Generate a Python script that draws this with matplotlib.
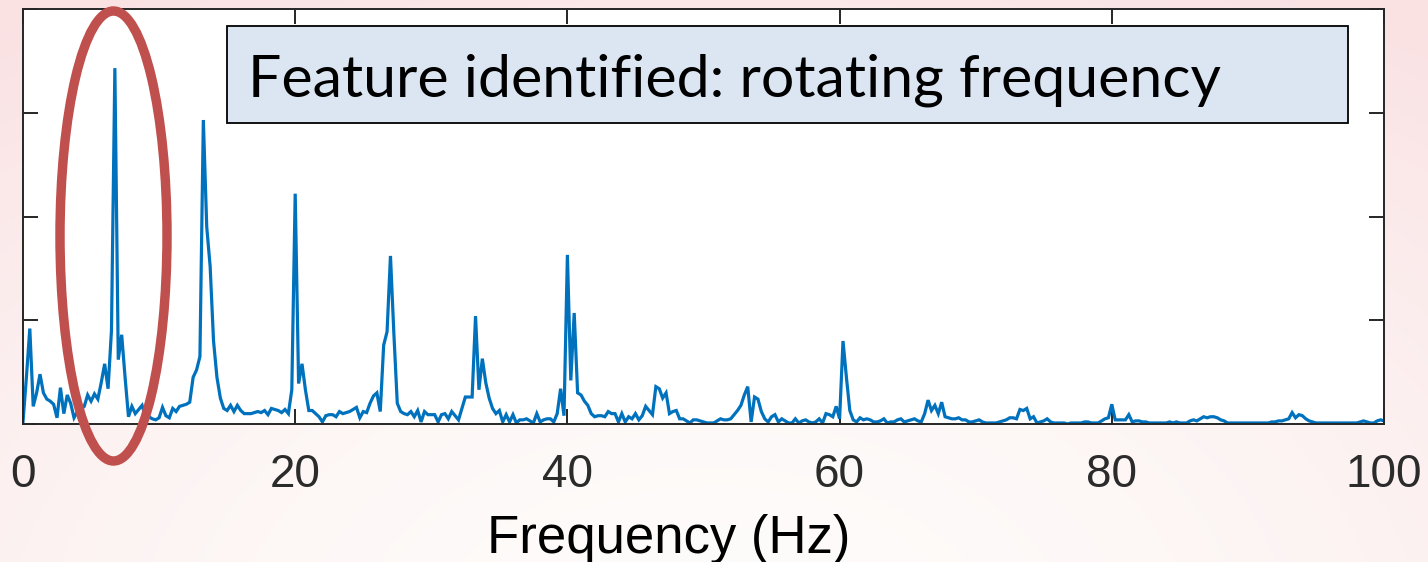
import numpy as np
import matplotlib
matplotlib.use("Agg")
import matplotlib.pyplot as plt
from matplotlib.patches import Ellipse, Rectangle

# ---- data (amplitude spectrum, 0.25 Hz bins) ----
freq_step = 0.25
amp_0_20 = [0.02, 0.45, 0.92, 0.17, 0.30, 0.48, 0.30, 0.24, 0.22, 0.19, 0.06, 0.35,
            0.10, 0.28, 0.20, 0.06, 0.12, 0.14, 0.17, 0.28, 0.22, 0.29, 0.24, 0.40,
            0.58, 0.34, 0.90, 3.43, 0.62, 0.86, 0.45, 0.07, 0.17, 0.10, 0.14, 0.18,
            0.07, 0.07, 0.05, 0.04, 0.06, 0.16, 0.08, 0.06, 0.15, 0.12, 0.17, 0.18,
            0.19, 0.21, 0.45, 0.52, 0.65, 2.93, 1.90, 1.52, 0.80, 0.45, 0.25, 0.15,
            0.13, 0.18, 0.12, 0.18, 0.13, 0.10, 0.10, 0.10, 0.11, 0.12, 0.11, 0.13,
            0.09, 0.15, 0.14, 0.13, 0.11, 0.14, 0.10, 0.33]
amp_20_40 = [2.22, 0.39, 0.58, 0.33, 0.13, 0.13, 0.10, 0.07, 0.02, 0.08, 0.09, 0.09,
             0.07, 0.12, 0.10, 0.11, 0.12, 0.14, 0.16, 0.06, 0.12, 0.11, 0.20, 0.27,
             0.30, 0.12, 0.76, 0.89, 1.62, 0.87, 0.20, 0.12, 0.10, 0.09, 0.12, 0.07,
             0.13, 0.02, 0.12, 0.09, 0.09, 0.09, 0.02, 0.09, 0.10, 0.05, 0.12, 0.08,
             0.04, 0.15, 0.26, 0.26, 0.26, 1.04, 0.33, 0.63, 0.40, 0.25, 0.15, 0.10,
             0.13, 0.02, 0.09, 0.02, 0.09, 0.01, 0.04, 0.04, 0.05, 0.03, 0.01, 0.10,
             0.02, 0.04, 0.05, 0.05, 0.02, 0.10, 0.34, 0.08]
amp_40_60 = [1.63, 0.42, 1.07, 0.30, 0.28, 0.22, 0.18, 0.10, 0.07, 0.08, 0.08, 0.07,
             0.12, 0.10, 0.10, 0.02, 0.10, 0.02, 0.07, 0.05, 0.10, 0.04, 0.08, 0.17,
             0.13, 0.09, 0.36, 0.34, 0.25, 0.30, 0.10, 0.12, 0.13, 0.05, 0.05, 0.03,
             0.01, 0.04, 0.04, 0.03, 0.02, 0.01, 0.01, 0.01, 0.03, 0.05, 0.04, 0.04,
             0.05, 0.09, 0.13, 0.18, 0.28, 0.36, 0.02, 0.26, 0.24, 0.12, 0.05, 0.02,
             0.07, 0.09, 0.02, 0.05, 0.03, 0.01, 0.01, 0.05, 0.01, 0.03, 0.04, 0.02,
             0.01, 0.02, 0.05, 0.01, 0.10, 0.09, 0.07, 0.17]
amp_60_80 = [0.05, 0.80, 0.45, 0.13, 0.04, 0.02, 0.06, 0.04, 0.05, 0.04, 0.02, 0.02,
             0.03, 0.05, 0.01, 0.02, 0.02, 0.04, 0.05, 0.02, 0.03, 0.04, 0.05, 0.03,
             0.02, 0.10, 0.23, 0.13, 0.18, 0.10, 0.21, 0.07, 0.06, 0.05, 0.05, 0.06,
             0.04, 0.04, 0.02, 0.02, 0.03, 0.04, 0.02, 0.01, 0.01, 0.01, 0.01, 0.02,
             0.03, 0.04, 0.06, 0.06, 0.05, 0.14, 0.13, 0.15, 0.05, 0.07, 0.01, 0.02,
             0.03, 0.05, 0.02, 0.01, 0.01, 0.01, 0.01, 0.00, 0.01, 0.01, 0.01, 0.01,
             0.02, 0.02, 0.01, 0.01, 0.01, 0.03, 0.05, 0.06]
amp_80_100 = [0.19, 0.04, 0.04, 0.04, 0.04, 0.09, 0.02, 0.03, 0.03, 0.02, 0.02, 0.01,
              0.01, 0.01, 0.01, 0.01, 0.01, 0.02, 0.01, 0.02, 0.01, 0.01, 0.01, 0.03,
              0.04, 0.03, 0.05, 0.07, 0.06, 0.07, 0.07, 0.06, 0.04, 0.03, 0.01, 0.01,
              0.01, 0.01, 0.01, 0.01, 0.01, 0.01, 0.01, 0.01, 0.01, 0.01, 0.01, 0.02,
              0.02, 0.03, 0.03, 0.04, 0.05, 0.11, 0.06, 0.09, 0.08, 0.05, 0.03, 0.02,
              0.01, 0.01, 0.01, 0.01, 0.01, 0.01, 0.01, 0.01, 0.01, 0.01, 0.01, 0.01,
              0.01, 0.02, 0.03, 0.02, 0.01, 0.01, 0.03, 0.04, 0.03]
xticks = [0, 20, 40, 60, 80, 100]
yticks = [0, 1, 2, 3, 4]
xlabel = "Frequency (Hz)"
note = "Feature identified: rotating frequency"

amplitude = np.array(amp_0_20 + amp_20_40 + amp_40_60 + amp_60_80 + amp_80_100)
frequency = np.arange(len(amplitude)) * freq_step

W, H = 1428, 562
fig = plt.figure(figsize=(W / 100, H / 100), dpi=100)

# slide background gradient (pink at top edges, lighter towards bottom centre)
bg = fig.add_axes([0, 0, 1, 1], zorder=-10)
yy, xx = np.mgrid[0:1:200j, 0:1:400j]
d = np.clip(np.sqrt(((xx - 0.5) / 0.85) ** 2 + ((yy - 1.15) / 1.35) ** 2), 0, 1)
c0 = np.array([0.995, 0.988, 0.982])
c1 = np.array([0.982, 0.885, 0.890])
t = d[..., None] ** 1.8
img = c0 * (1 - t) + c1 * t
bg.imshow(img, extent=[0, 1, 0, 1], aspect="auto", origin="upper")
bg.axis("off")

ax = fig.add_axes([23 / W, 1 - 424 / H, (1384 - 23) / W, (424 - 9) / H])
ax.set_facecolor("white")
ax.plot(frequency, amplitude, color="#0072BD", lw=2.3, solid_joinstyle="miter")
ax.set_xlim(0, 100)
ax.set_ylim(0, 4)
ax.set_xticks(xticks)
ax.set_yticks(yticks)
ax.set_yticklabels([])
ax.tick_params(axis="both", direction="in", length=11, width=1.4, color="#262626",
               top=True, right=True, labelsize=33, labelcolor="#2b2b2b", pad=21)
for lab in ax.get_xticklabels():
    lab.set_fontfamily("Liberation Sans")
for s in ax.spines.values():
    s.set_color("#262626")
    s.set_linewidth(1.4)

fig.text(669 / W, 1 - 553 / H, xlabel, ha="center", va="baseline",
         fontsize=38, family="Liberation Sans", color="black")

# annotation box
fig.patches.append(Rectangle((227 / W, 1 - 123 / H), (1348 - 227) / W, (123 - 26) / H,
                             transform=fig.transFigure, facecolor="#DCE6F2",
                             edgecolor="black", lw=1.3, zorder=5))
fig.text(248 / W, 1 - 97 / H, note, ha="left", va="baseline", fontsize=42.5,
         family="Lato", color="black", zorder=6)

# red ellipse highlighting the rotating frequency
fig.patches.append(Ellipse((113.5 / W, 1 - 236 / H), 107 / W, 450 / H,
                           transform=fig.transFigure, fill=False,
                           edgecolor="#C0504D", lw=6.8, zorder=7))

fig.savefig("out.png", dpi=100)
